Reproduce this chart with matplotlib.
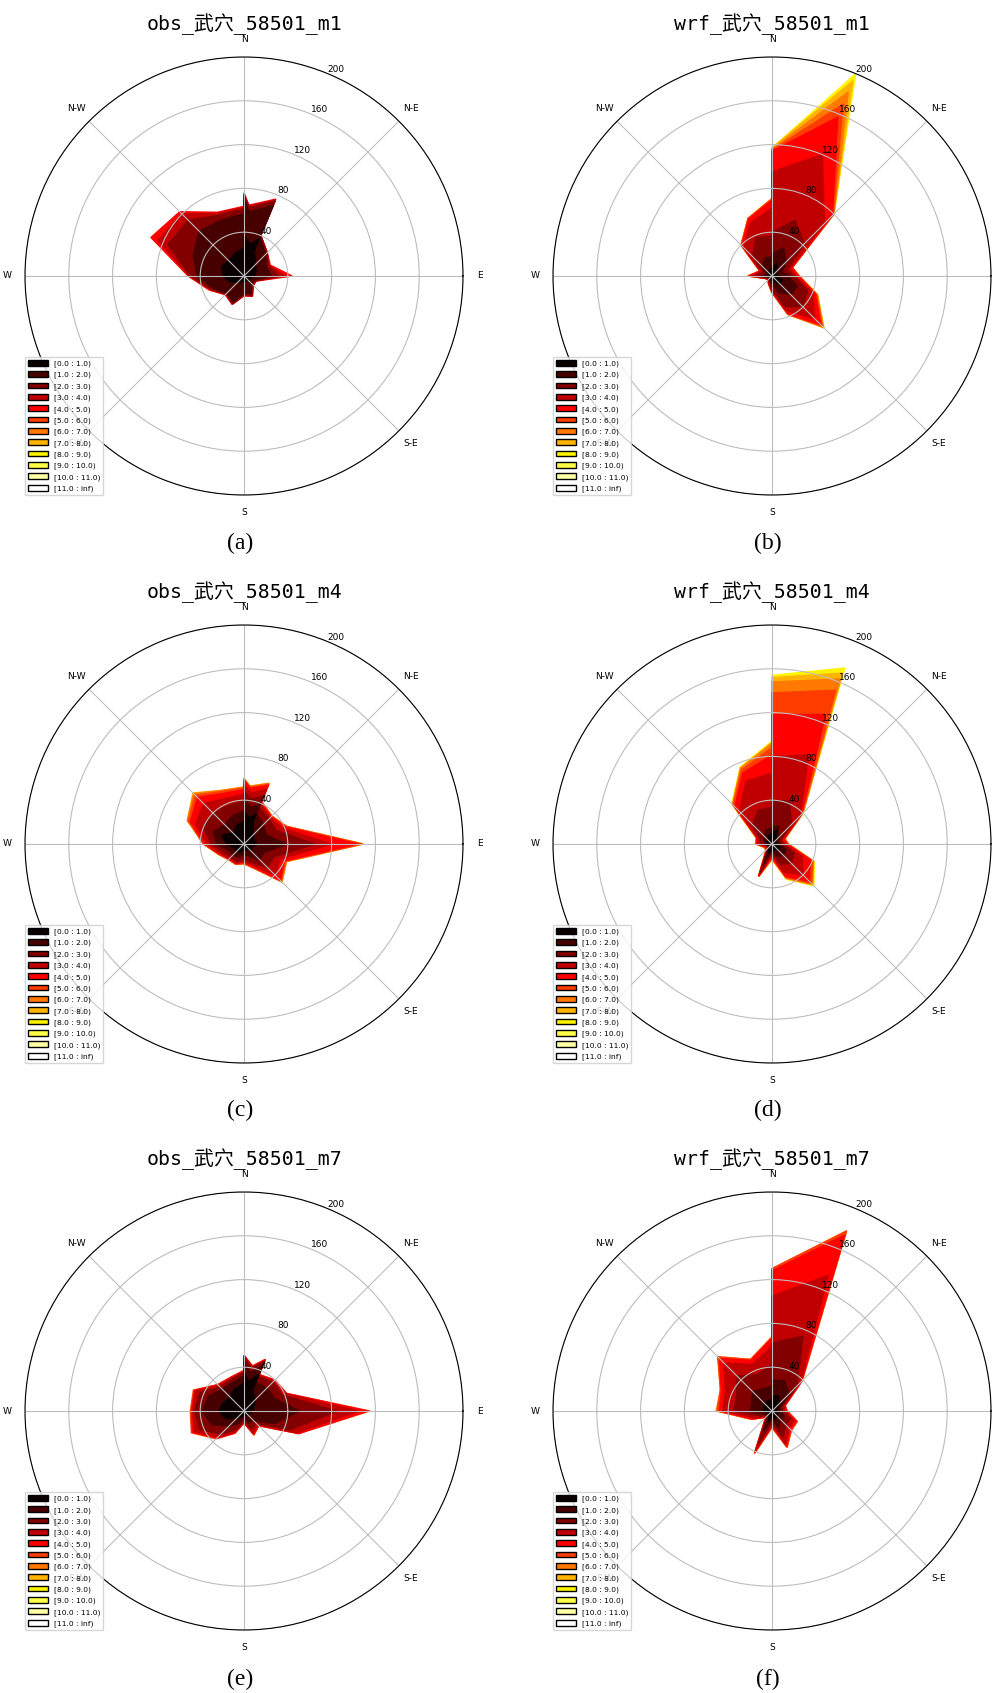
import matplotlib
matplotlib.use('Agg')
import matplotlib.pyplot as plt
import numpy as np
from matplotlib.patches import Rectangle

# 16 sectors, clockwise from north
directions = ['N', 'NNE', 'NE', 'ENE', 'E', 'ESE', 'SE', 'SSE',
              'S', 'SSW', 'SW', 'WSW', 'W', 'WNW', 'NW', 'NNW']
bin_labels = ['[0.0 : 1.0)', '[1.0 : 2.0)', '[2.0 : 3.0)', '[3.0 : 4.0)',
              '[4.0 : 5.0)', '[5.0 : 6.0)', '[6.0 : 7.0)', '[7.0 : 8.0)',
              '[8.0 : 9.0)', '[9.0 : 10.0)', '[10.0 : 11.0)', '[11.0 : inf)']
compass_labels = ['E', 'N-E', 'N', 'N-W', 'W', 'S-W', 'S', 'S-E']
radii = [40, 80, 120, 160, 200]
titles = ['obs_武穴_58501_m1', 'wrf_武穴_58501_m1',
          'obs_武穴_58501_m4', 'wrf_武穴_58501_m4',
          'obs_武穴_58501_m7', 'wrf_武穴_58501_m7']
captions = ['(a)', '(b)', '(c)', '(d)', '(e)', '(f)']

# cumulative counts: row i = count with speed below upper edge of bin i
obs_m1 = [
    [37, 25, 15, 12, 10, 6, 5, 5, 5, 6, 8, 14, 19, 22, 20, 22],
    [70, 38, 28, 22, 25, 10, 10, 17, 16, 26, 22, 30, 43, 50, 58, 55],
    [74, 40, 30, 24, 32, 11, 11, 19, 17, 27, 23, 32, 49, 75, 72, 60],
    [75, 40, 30, 25, 38, 12, 12, 20, 18, 28, 24, 33, 50, 85, 80, 62],
    [76, 40, 30, 26, 44, 12, 12, 20, 18, 28, 24, 34, 51, 92, 83, 63],
]
wrf_m1 = [
    [8, 12, 6, 4, 6, 10, 10, 6, 4, 3, 2, 2, 4, 3, 4, 6],
    [20, 28, 18, 10, 15, 25, 24, 16, 8, 5, 3, 4, 8, 6, 12, 18],
    [40, 55, 42, 15, 20, 35, 40, 30, 12, 6, 4, 5, 15, 9, 25, 38],
    [95, 120, 68, 18, 22, 40, 55, 34, 14, 7, 5, 6, 19, 11, 36, 52],
    [114, 157, 78, 20, 24, 43, 63, 37, 15, 8, 5, 6, 21, 12, 39, 56],
    [115, 170, 79, 20, 25, 44, 65, 38, 15, 8, 5, 6, 22, 12, 40, 57],
    [116, 182, 80, 20, 25, 45, 66, 38, 15, 8, 5, 6, 22, 12, 40, 57],
    [117, 193, 80, 20, 25, 45, 67, 38, 15, 8, 5, 6, 22, 12, 40, 57],
    [117, 200, 80, 20, 25, 45, 67, 38, 15, 8, 5, 6, 22, 12, 40, 57],
]
obs_m4 = [
    [30, 22, 12, 10, 12, 8, 8, 6, 5, 8, 10, 10, 16, 22, 14, 18],
    [40, 30, 25, 22, 39, 20, 20, 12, 10, 13, 14, 15, 25, 30, 25, 28],
    [48, 36, 32, 32, 65, 30, 30, 18, 14, 17, 17, 20, 30, 40, 40, 38],
    [54, 40, 34, 38, 80, 36, 40, 21, 16, 19, 19, 23, 34, 48, 52, 45],
    [58, 41, 35, 41, 104, 40, 47, 23, 17, 19, 19, 24, 36, 53, 60, 50],
    [59, 42, 36, 42, 108, 41, 48, 24, 18, 20, 20, 25, 37, 55, 63, 52],
    [60, 42, 36, 42, 109, 42, 49, 24, 18, 20, 20, 25, 37, 56, 65, 53],
    [60, 42, 36, 42, 109, 42, 49, 24, 18, 20, 20, 25, 37, 56, 66, 53],
]
wrf_m4 = [
    [14, 10, 6, 4, 5, 8, 8, 6, 4, 10, 3, 3, 4, 5, 6, 8],
    [18, 14, 10, 6, 8, 14, 15, 12, 6, 20, 4, 4, 6, 8, 10, 14],
    [40, 42, 25, 8, 10, 22, 25, 20, 8, 28, 5, 5, 10, 12, 25, 33],
    [80, 88, 36, 10, 12, 30, 40, 28, 10, 31, 6, 6, 13, 14, 42, 62],
    [118, 128, 38, 12, 14, 38, 48, 32, 12, 32, 7, 7, 14, 15, 48, 70],
    [138, 152, 39, 12, 14, 40, 51, 33, 13, 32, 7, 7, 15, 15, 50, 73],
    [148, 163, 40, 13, 15, 41, 52, 34, 14, 32, 8, 8, 15, 16, 51, 75],
    [152, 169, 40, 13, 15, 41, 53, 34, 14, 32, 8, 8, 15, 16, 51, 75],
    [154, 174, 40, 13, 15, 42, 54, 35, 14, 32, 8, 8, 15, 16, 52, 76],
]
obs_m7 = [
    [36, 20, 15, 10, 8, 6, 5, 4, 3, 6, 10, 18, 23, 20, 18, 22],
    [45, 28, 30, 30, 51, 30, 12, 12, 6, 12, 20, 32, 38, 35, 28, 28],
    [49, 34, 37, 38, 85, 45, 16, 18, 9, 18, 30, 44, 45, 44, 31, 31],
    [50, 35, 39, 41, 105, 52, 18, 22, 10, 21, 34, 49, 47, 48, 33, 32],
    [51, 36, 40, 42, 113, 54, 19, 23, 11, 22, 35, 51, 48, 49, 34, 33],
    [51, 36, 40, 42, 115, 54, 19, 24, 11, 22, 36, 52, 49, 50, 34, 33],
]
wrf_m7 = [
    [14, 15, 10, 5, 5, 6, 6, 8, 5, 10, 3, 4, 8, 8, 10, 10],
    [28, 30, 22, 8, 8, 12, 12, 16, 8, 20, 5, 8, 20, 20, 25, 22],
    [62, 74, 32, 10, 10, 18, 18, 26, 11, 32, 6, 12, 35, 35, 45, 36],
    [105, 134, 37, 12, 12, 22, 22, 33, 13, 39, 7, 17, 45, 46, 62, 46],
    [128, 174, 38, 13, 13, 24, 24, 35, 14, 41, 8, 19, 48, 50, 68, 50],
    [130, 178, 39, 13, 14, 25, 25, 36, 15, 42, 8, 20, 50, 51, 70, 51],
    [130, 178, 39, 13, 14, 25, 25, 36, 15, 42, 8, 20, 51, 51, 70, 51],
]
panels = [obs_m1, wrf_m1, obs_m4, wrf_m4, obs_m7, wrf_m7]

W, H = 1002, 1693
fig = plt.figure(figsize=(W / 100, H / 100), dpi=100)

colors = plt.get_cmap('hot')(np.linspace(0, 1, len(bin_labels)))
theta = np.radians(90 - 22.5 * np.arange(len(directions)))
theta = np.append(theta, theta[0] - 2 * np.pi / len(directions))

col_x = [25, 553]
row_top = [57, 625, 1192]
title_y = [24, 592, 1159]
cap_y = [543, 1110, 1679]
size = 438

for k, data in enumerate(panels):
    r, c = divmod(k, 2)
    ax = fig.add_axes([col_x[c] / W, 1 - (row_top[r] + size) / H, size / W, size / H],
                      projection='polar')
    for i, row in enumerate(data):
        val = np.append(row, row[0])
        xs = np.concatenate([theta, theta[::-1]])
        ys = np.concatenate([np.zeros_like(val), val[::-1]])
        ax.fill(xs, ys, facecolor=colors[i], edgecolor=colors[i], zorder=-990 - i)
    ax.set_ylim(0, 200)
    ax.set_thetagrids(np.arange(0, 360, 45), compass_labels, fontsize=6.6)
    ax.set_rgrids(radii, [str(v) for v in radii], angle=67.5, fontsize=6.5)
    ax.tick_params(axis='x', pad=2)
    ax.grid(color='#bdbdbd', lw=0.8)
    ax.spines['polar'].set_linewidth(0.8)
    handles = [Rectangle((0, 0), 0.2, 0.2, facecolor=col, edgecolor='black') for col in colors]
    ax.legend(handles, bin_labels, loc='lower left', bbox_to_anchor=(0, 0),
              borderaxespad=0, fontsize=5.4, handlelength=2.6, handleheight=0.8,
              labelspacing=0.55)
    cx = col_x[c] + size / 2
    fig.text(cx / W, 1 - title_y[r] / H, titles[k], ha='center', va='center',
             fontsize=14.3, family=['DejaVu Sans Mono', 'Noto Sans CJK SC'])
    fig.text((cx - 4) / W, 1 - cap_y[r] / H, captions[k], ha='center', va='center',
             fontsize=17, family='Liberation Serif')

fig.savefig('out.png', dpi=100)
